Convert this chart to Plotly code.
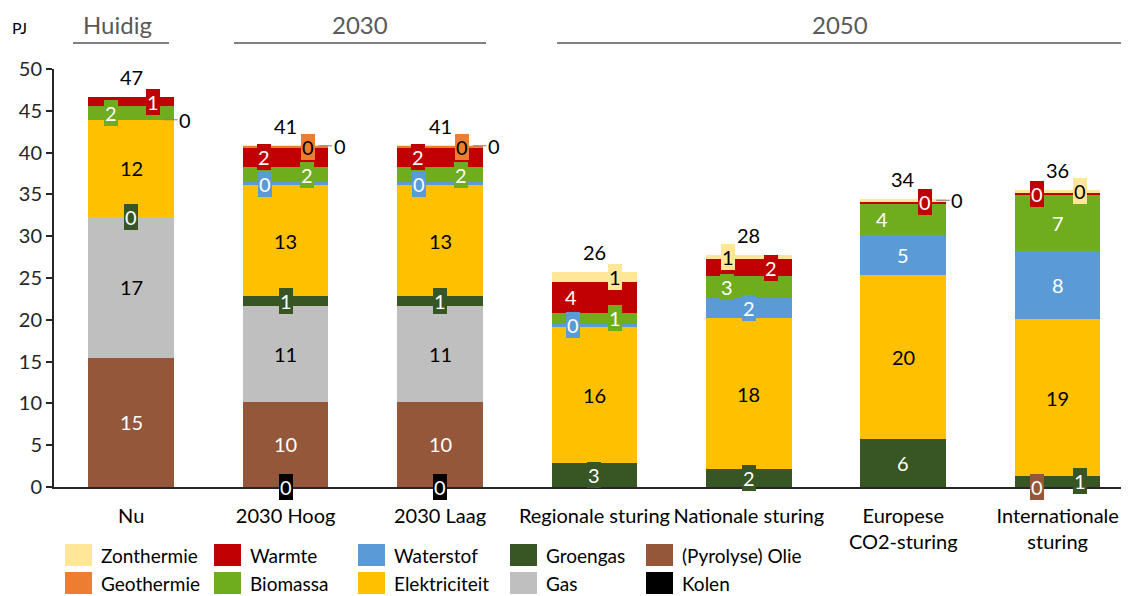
import plotly.graph_objects as go

# categories (x axis)
categories = ["Nu", "2030 Hoog", "2030 Laag", "Regionale sturing", "Nationale sturing",
              "Europese<br>CO2-sturing", "Internationale<br>sturing"]

# series values in PJ, stacked bottom -> top
kolen = [0, 0.05, 0.05, 0, 0, 0, 0]
olie = [15.45, 10.15, 10.15, 0, 0, 0, 0.05]
gas = [16.85, 11.4, 11.4, 0, 0, 0, 0]
groengas = [0.05, 1.2, 1.2, 2.85, 2.1, 5.75, 1.25]
elektriciteit = [11.55, 13.3, 13.3, 16.25, 18.15, 19.55, 18.75]
waterstof = [0.05, 0.4, 0.4, 0.45, 2.4, 4.9, 8.15]
biomassa = [1.6, 1.75, 1.75, 1.3, 2.6, 3.75, 6.75]
warmte = [1.1, 2.4, 2.4, 3.65, 2.0, 0.2, 0.25]
geothermie = [0, 0.15, 0.15, 0, 0, 0, 0]
zonthermie = [0, 0.03, 0.03, 1.2, 0.55, 0.3, 0.35]

series = [
    ("Kolen", kolen, "#000000", "white"),
    ("(Pyrolyse) Olie", olie, "#955739", "white"),
    ("Gas", gas, "#BFBFBF", "black"),
    ("Groengas", groengas, "#375623", "white"),
    ("Elektriciteit", elektriciteit, "#FFC000", "black"),
    ("Waterstof", waterstof, "#5B9BD5", "white"),
    ("Biomassa", biomassa, "#6FAC1E", "white"),
    ("Warmte", warmte, "#C00000", "white"),
    ("Geothermie", geothermie, "#ED7D31", "black"),
    ("Zonthermie", zonthermie, "#FFE699", "black"),
]

legend_rows = [
    ["Zonthermie", "Warmte", "Waterstof", "Groengas", "(Pyrolyse) Olie"],
    ["Geothermie", "Biomassa", "Elektriciteit", "Gas", "Kolen"],
]

groups = [("Huidig", -0.377, 0.245), ("2030", 0.666, 2.298), ("2050", 2.758, 6.417)]

# label placement (pixel shifts), as the labels were moved by hand in the original
label_shift = {
    ("Biomassa", 0): -20, ("Warmte", 0): 22,
    ("Waterstof", 1): -21, ("Biomassa", 1): 21, ("Warmte", 1): -22, ("Geothermie", 1): 22,
    ("Waterstof", 2): -21, ("Biomassa", 2): 21, ("Warmte", 2): -22, ("Geothermie", 2): 22,
    ("Waterstof", 3): -21, ("Biomassa", 3): 21, ("Warmte", 3): -23, ("Zonthermie", 3): 21,
    ("Biomassa", 4): -22, ("Warmte", 4): 22, ("Zonthermie", 4): -21,
    ("Biomassa", 5): -21, ("Warmte", 5): 22,
    ("(Pyrolyse) Olie", 6): -21, ("Groengas", 6): 22, ("Warmte", 6): -21, ("Zonthermie", 6): 22,
}
leader_labels = {("Waterstof", 0), ("Zonthermie", 1), ("Zonthermie", 2), ("Zonthermie", 5)}

FONT = "Lato"
FS = 20
# page body has an 8px margin, so the figure is drawn 8px smaller and coordinates shifted
OFF = 8
W, H = 1129 - OFF, 596 - OFF
L, R, T, B = 46, 0, 61, 109


def px_x(px):
    return (px - OFF - L) / (W - L - R)


def px_y(py):
    return (H - B - (py - OFF)) / (H - T - B)


xs = list(range(len(categories)))
fig = go.Figure()
annotations = []
base = [0.0] * len(categories)
colors = {}
for name, vals, color, tcolor in series:
    colors[name] = color
    fig.add_trace(go.Bar(
        x=xs, y=vals, name=name, marker=dict(color=color, line=dict(width=0)),
        width=0.554, showlegend=False, hoverinfo="name+y",
    ))
    for i, v in enumerate(vals):
        if v <= 0:
            continue
        mid = base[i] + v / 2
        key = (name, i)
        if key in leader_labels:
            annotations.append(dict(
                x=i, y=mid, xref="x", yref="y", text=f"{v:.0f}", xshift=33,
                showarrow=True, ax=21, ay=0, arrowhead=0, arrowwidth=1, arrowcolor="#7F7F7F",
                font=dict(family=FONT, size=FS, color="black"),
            ))
        else:
            annotations.append(dict(
                x=i, y=mid, xref="x", yref="y", text=f"{v:.0f}", showarrow=False,
                xshift=label_shift.get(key, 0), bgcolor=color, borderpad=1, borderwidth=0,
                font=dict(family=FONT, size=FS, color=tcolor),
            ))
        base[i] += v

# totals above the bars
for i, tot in enumerate(base):
    annotations.append(dict(
        x=i, y=tot, xref="x", yref="y", text=f"{tot:.0f}", showarrow=False,
        yanchor="bottom", yshift=6, font=dict(family=FONT, size=FS, color="black"),
    ))

shapes = []
# group headers with underline
for label, x0, x1 in groups:
    xc = -0.09 if label == "Huidig" else (x0 + x1) / 2
    annotations.append(dict(
        x=xc, y=px_y(24), xref="x", yref="paper", text=label, showarrow=False,
        yanchor="middle", font=dict(family=FONT, size=24, color="#595959"),
    ))
    shapes.append(dict(type="line", xref="x", yref="paper", x0=x0, x1=x1,
                       y0=px_y(43), y1=px_y(43), line=dict(color="#808080", width=2)))

annotations.append(dict(
    x=px_x(19), y=px_y(27), xref="paper", yref="paper", text="PJ", showarrow=False,
    xanchor="center", yanchor="middle", font=dict(family=FONT, size=16, color="black"),
))

# legend drawn below the chart
col_px = [65, 214, 358, 510, 646]
row_py = [555, 583]
for r, row in enumerate(legend_rows):
    for c, name in enumerate(row):
        x0 = col_px[c]
        yc = row_py[r]
        shapes.append(dict(type="rect", xref="paper", yref="paper",
                           x0=px_x(x0), x1=px_x(x0 + 27), y0=px_y(yc - 11), y1=px_y(yc + 11),
                           fillcolor=colors[name], line=dict(width=0)))
        annotations.append(dict(
            x=px_x(x0 + 35), y=px_y(yc), xref="paper", yref="paper", text=name,
            showarrow=False, xanchor="left", yanchor="middle", borderpad=0,
            font=dict(family=FONT, size=19, color="black"),
        ))

fig.update_layout(
    width=W, height=H, barmode="stack",
    margin=dict(l=L, r=R, t=T, b=B, pad=0),
    plot_bgcolor="white", paper_bgcolor="white",
    font=dict(family=FONT, size=FS, color="black"),
    annotations=annotations, shapes=shapes,
    xaxis=dict(
        tickmode="array", tickvals=xs, ticktext=categories, range=[-0.5, 6.462],
        showline=True, linecolor="#262626", linewidth=2, ticks="", tickangle=0,
        showgrid=False, zeroline=False, tickfont=dict(family=FONT, size=FS, color="black"),
        ticklabelstandoff=10,
    ),
    yaxis=dict(
        range=[0, 50], dtick=5, showline=True, linecolor="#262626", linewidth=2,
        ticks="outside", ticklen=6, tickwidth=2, tickcolor="#262626",
        showgrid=False, zeroline=False, tickfont=dict(family=FONT, size=FS, color="#262626"),
    ),
)

fig.write_html("out.html")
